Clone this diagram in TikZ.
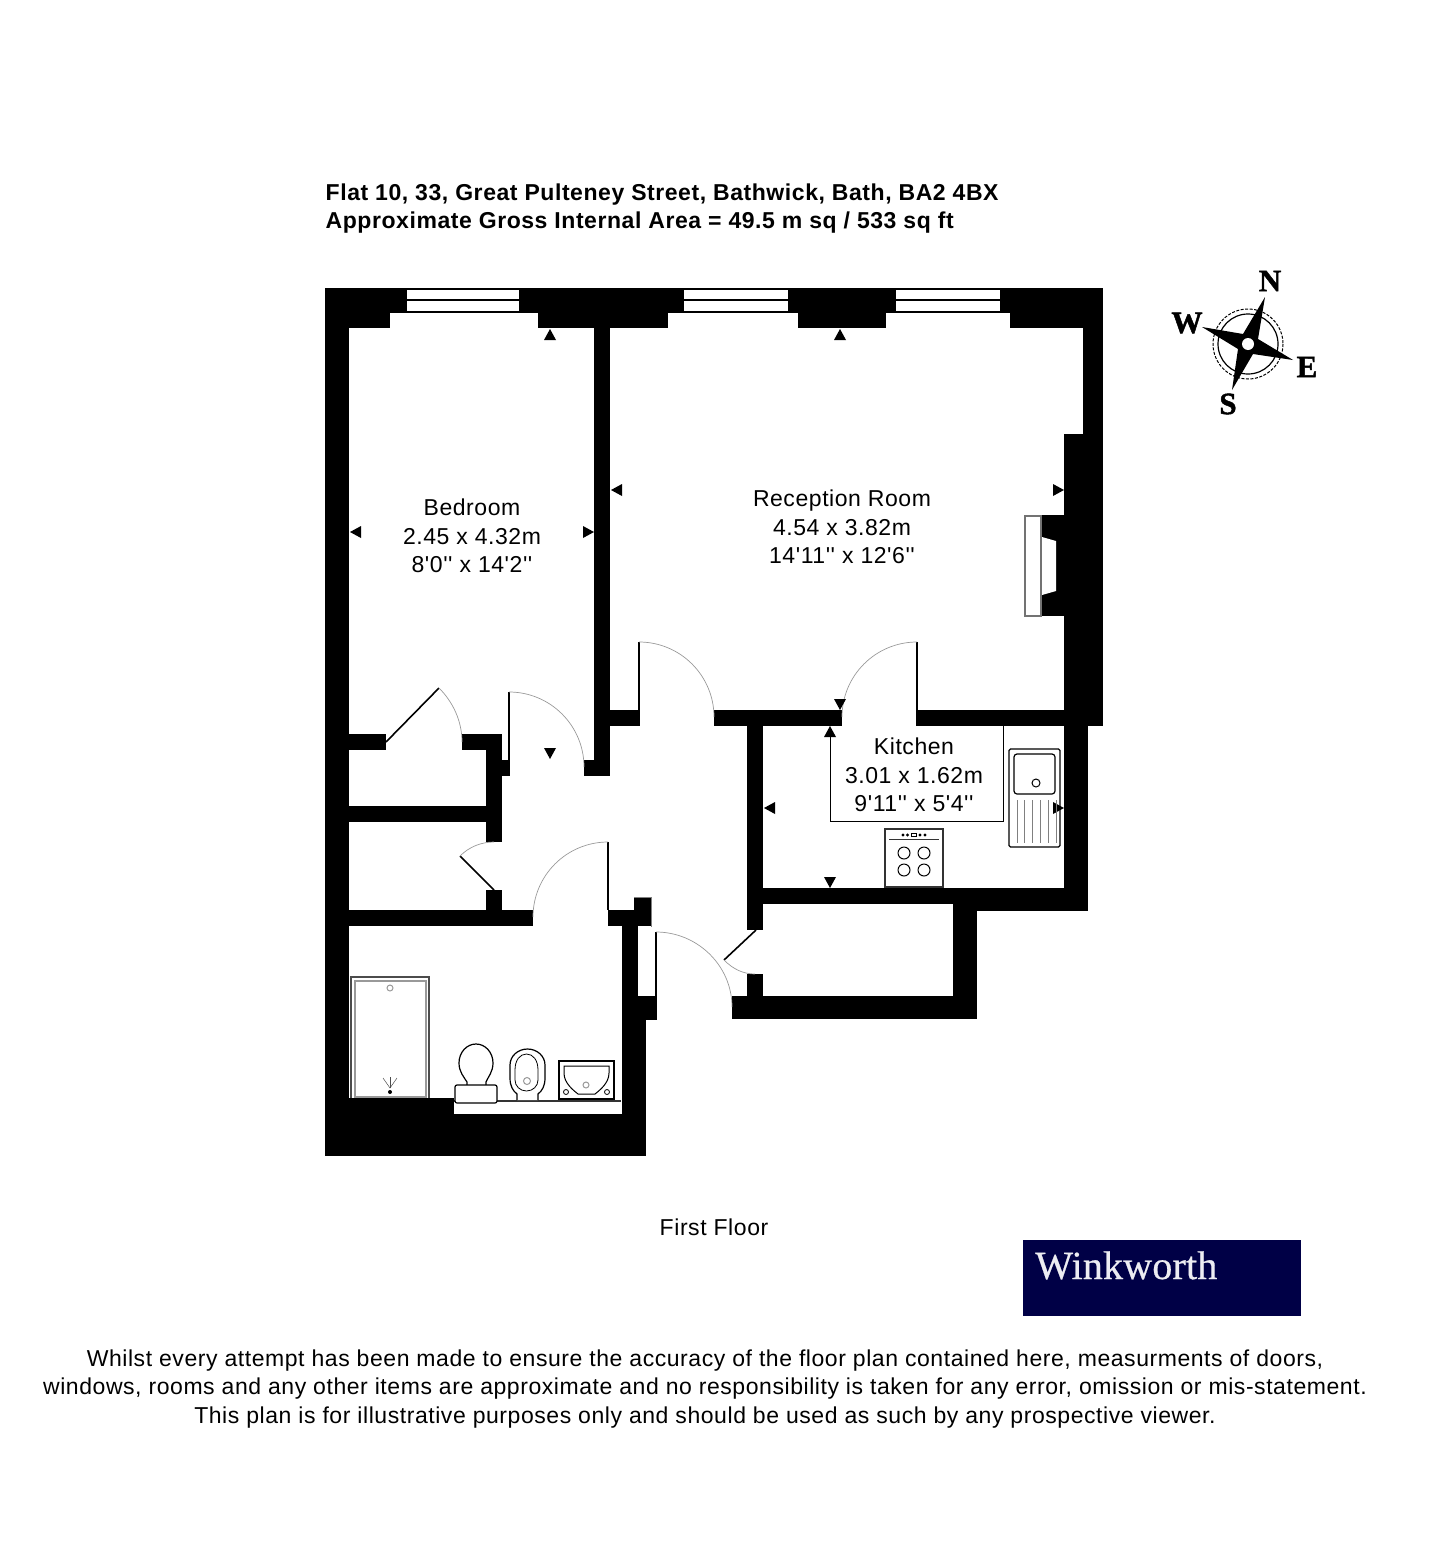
\documentclass[tikz,border=0pt]{standalone}
\usepackage{fontspec}
\setmainfont[LetterSpace=2.43,Ligatures=TeXOff]{Liberation Sans}
\newfontfamily\serifbold{Liberation Serif}
\usetikzlibrary{positioning}
\definecolor{navy}{HTML}{000046}
\tikzset{
  wall/.style={fill=black},
  glass/.style={fill=white},
  leaf/.style={draw=black,line width=1.6pt},
  swing/.style={draw=gray!80,line width=0.7pt},
  fitting/.style={draw=black,line width=1.2pt},
  greyring/.style={draw=gray!80,line width=1pt},
  roomlabel/.style={align=center,inner sep=0pt,font=\fontsize{23}{28.7}\selectfont},
  compassletter/.style={inner sep=0pt,font=\serifbold\bfseries\fontsize{31}{31}\selectfont\addfontfeature{FakeBold=1.5}}
}
\begin{document}
\begin{tikzpicture}[x=1pt,y=-1pt]
  \useasboundingbox (0,0) rectangle (1444,1566);
  % walls
  \foreach \xa/\ya/\xb/\yb in {325/288/1103/313,325/313/390/328,538/313/668/328,798/313/886/328,1010/313/1103/328,
    325/328/349/1156,1083/328/1103/434,1064/434/1103/726,594/328/610/776,584/760/610/776,610/710/640/726,
    714/710/842/726,916/710/1064/726,1064/726/1088/911,747/888/1088/904,953/904/1088/911,953/904/977/1019,
    747/726/763/930,747/974/763/996,732/996/977/1019,1041/515/1064/616,
    349/734/386/750,462/734/502/750,486/750/502/842,349/806/486/822,502/760/510/776,486/890/502/910,349/910/533/926,
    608/910/651/926,634/897/651/910,622/926/638/996,622/996/656/1020,622/1020/646/1156,
    349/1114/646/1156,349/1098/454/1114}
    \fill[wall] (\xa,\ya) rectangle (\xb,\yb);
  \draw[line width=1pt,draw=gray] (634,897) -- (651,897) -- (651,927);
  % windows
  \foreach \xa/\xb in {407/519,684/788,896/1000}{
    \fill[glass] (\xa,290) rectangle (\xb,311);
    \draw[line width=1.5pt] (\xa,300) -- (\xb,300);
  }
  % doors
  \draw[leaf] (639,642) -- (639,710);
  \draw[swing] (639,642) .. controls (680.4,642) and (714,675.6) .. (714,717);
  \draw[leaf] (917,642) -- (917,710);
  \draw[swing] (917,642) .. controls (875.6,642) and (842,675.6) .. (842,717);
  \draw[leaf] (509,692) -- (509,760);
  \draw[swing] (509,692) .. controls (550.4,692) and (584,725.6) .. (584,767);
  \draw[leaf] (386,742) -- (439,688);
  \draw[swing] (439,688) .. controls (453,702) and (462,721) .. (462,742);
  \draw[leaf] (608,842) -- (608,910);
  \draw[swing] (608,842) .. controls (566.6,842) and (533,875.6) .. (533,917);
  \draw[leaf] (494,890) -- (460,856);
  \draw[swing] (460,856) .. controls (469,847) and (481,842) .. (494,842);
  \draw[leaf] (656,932) -- (656,1020);
  \draw[swing] (656,932) .. controls (697.4,932) and (732,965.6) .. (732,1007);
  \draw[leaf] (756,930) -- (724,960);
  \draw[swing] (724,960) .. controls (733,969) and (743,974) .. (755,974);
  % size markers
  \foreach \x/\y in {550/329,840/329,830/726}
    \fill (\x,\y) -- ++(-6,11) -- ++(12,0) -- cycle;
  \foreach \x/\y in {840/710,550/759,830/888}
    \fill (\x,\y) -- ++(-6,-11) -- ++(12,0) -- cycle;
  \foreach \x/\y in {350/532,611/490,764/808}
    \fill (\x,\y) -- ++(11,-6) -- ++(0,12) -- cycle;
  \foreach \x/\y in {594/532,1064/490,1064/808}
    \fill (\x,\y) -- ++(-11,-6) -- ++(0,12) -- cycle;
  % fireplace
  \draw[draw=gray!90!black,line width=1.6pt,fill=white] (1041,516) rectangle (1025,616);
  \fill[white] (1042,537) -- (1056,541) -- (1056,591) -- (1042,595) -- cycle;
  % kitchen
  \draw[line width=1pt] (830,736) -- (830,821) -- (1003,821) -- (1003,726);
  \draw[fitting,draw=black!80] (885,829) rectangle (943,887);
  \draw[line width=1pt,draw=black!80] (889,839) -- (939,839);
  \foreach \x in {903,907.5,920,925}
    \fill (\x,835) circle (1.7);
  \draw[line width=0.5pt] (911.5,833.5) rectangle (916.5,836.5);
  \foreach \x in {904,924} \foreach \y in {853,870}
    \draw[line width=1pt] (\x,\y) circle (6);
  \draw[fitting,rounded corners=1.5pt] (1009,749) rectangle (1060,847);
  \draw[fitting,rounded corners=3pt] (1014,754) rectangle (1055,794);
  \draw[line width=1pt] (1036,783) circle (4);
  \foreach \x in {1017,1024,1032,1040,1048,1056}
    \draw[line width=0.7pt,draw=gray] (\x,800) -- (\x,843);
  % bathroom
  \fill[glass] (454,1101) rectangle (621,1114);
  \draw[line width=1.2pt,draw=black!80] (454,1101) -- (621,1101);
  \draw[line width=1.8pt,draw=black!70] (351,1098) -- (351,977) -- (429,977) -- (429,1098);
  \draw[line width=2pt,draw=gray!80] (355,1097) -- (355,981) -- (426,981) -- (426,1097) -- cycle;
  \draw[greyring] (390,988) circle (3);
  \fill (390,1092) circle (2);
  \foreach \x/\y in {383/1078,390/1077,397/1078}
    \draw[line width=0.5pt,draw=black!70] (390,1088) -- (\x,\y);
  \draw[fitting,fill=white] (467,1085) -- (467,1082) .. controls (464,1077) and (459,1072) .. (459,1063) .. controls (459,1052) and (467,1044) .. (476,1044) .. controls (485,1044) and (493,1052) .. (493,1063) .. controls (493,1072) and (488,1077) .. (486,1082) -- (486,1085);
  \draw[fitting,fill=white,rounded corners=2pt] (455,1085) rectangle (497,1103);
  \draw[fitting,fill=white] (517,1100) -- (517,1094) .. controls (513,1091) and (510,1086) .. (510,1078) -- (510,1065) .. controls (510,1056) and (518,1049) .. (527.5,1049) .. controls (537,1049) and (545,1056) .. (545,1065) -- (545,1078) .. controls (545,1086) and (542,1091) .. (538,1094) -- (538,1100);
  \draw[line width=0.8pt] (515,1070) .. controls (515,1060) and (520,1054) .. (526.5,1054) .. controls (533,1054) and (538,1060) .. (538,1070) -- (538,1080) .. controls (538,1086) and (533,1091) .. (526.5,1091) .. controls (520,1091) and (515,1086) .. (515,1080) -- cycle;
  \draw[greyring] (527,1081) circle (3.5);
  \draw[fitting] (559,1061) rectangle (614,1099);
  \draw[line width=1pt] (564,1066) -- (609,1066) -- (609,1073) .. controls (609,1083) and (600,1090) .. (595,1094) -- (578,1094) .. controls (573,1090) and (564,1083) .. (564,1073) -- cycle;
  \draw[greyring] (586,1085) circle (3);
  \draw[line width=0.8pt] (566,1092) circle (2.5);
  \draw[line width=0.8pt] (607,1092) circle (2.5);
  % compass
  \draw[line width=1.2pt] (1248,344) circle (30);
  \draw[line width=1pt,dash pattern=on 3pt off 1.5pt] (1248,344) circle (35);
  \fill (1265,297) -- (1258,339) -- (1293,360) -- (1253,354) -- (1232,390) -- (1238,349) -- (1202,327) -- (1243,334) -- cycle;
  \fill[white] (1248,344) circle (6);
  \node[compassletter] (north) at (1270,281) {N};
  \node[compassletter] (west) at (1187,323) {W};
  \node[compassletter] (east) at (1307,367) {E};
  \node[compassletter] (south) at (1228,404) {S};
  % texts
  \node[anchor=west,align=left,inner sep=0pt,font=\bfseries\fontsize{23}{28.5}\selectfont] (title) at (325.5,208.5) {Flat 10, 33, Great Pulteney Street, Bathwick, Bath, BA2 4BX\\Approximate Gross Internal Area = 49.5 m sq / 533 sq ft};
  \node[roomlabel] (bedroom) at (472,536) {Bedroom\\2.45 x 4.32m\\8'0'' x 14'2''};
  \node[roomlabel] (reception) at (842,527) {Reception Room\\4.54 x 3.82m\\14'11'' x 12'6''};
  \node[roomlabel] (kitchen) at (914,775) {Kitchen\\3.01 x 1.62m\\9'11'' x 5'4''};
  \node[roomlabel] (floor) at (714,1227.5) {First Floor};
  \node[fill=navy,minimum width=278pt,minimum height=76pt,inner sep=0pt] (logo) at (1162,1278) {};
  \node[anchor=base west,inner sep=0pt,text=white!93!navy,font=\serifbold\fontsize{40}{40}\selectfont\addfontfeature{FakeBold=0.6,LetterSpace=0.5}] (brand) at (1035,1279) {Winkworth};
  \node[roomlabel] (disclaimer) at (705,1389) {Whilst every attempt has been made to ensure the accuracy of the floor plan contained here, measurments of doors,\\windows, rooms and any other items are approximate and no responsibility is taken for any error, omission or mis-statement.\\This plan is for illustrative purposes only and should be used as such by any prospective viewer.};
\end{tikzpicture}
\end{document}
